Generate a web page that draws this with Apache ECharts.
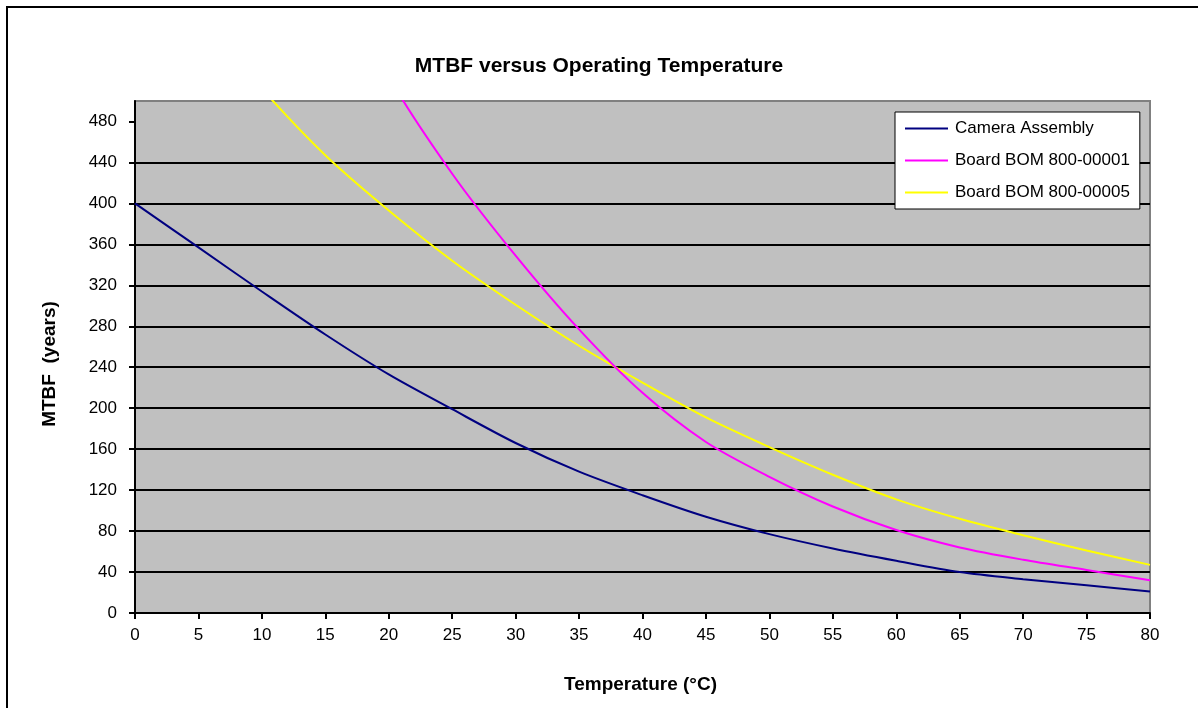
<!DOCTYPE html>
<html>
<head>
<meta charset="utf-8">
<title>MTBF versus Operating Temperature</title>
<script src="https://cdn.jsdelivr.net/npm/echarts@6/dist/echarts.min.js"></script>
<style>
  html, body { margin: 0; padding: 0; background: #fff; }
  #frame {
    position: absolute; left: 6px; top: 6px;
    width: 1300px; height: 800px;
    border: 2px solid #000; box-sizing: border-box;
  }
  #chart { position: absolute; left: 0; top: 0; width: 1198px; height: 708px; }
</style>
</head>
<body>
<div id="frame"></div>
<div id="chart"></div>
<script>
// temperature (°C)
const temps = [0, 5, 10, 15, 20, 25, 30, 35, 40, 45, 50, 55, 60, 65, 70, 75, 80]
// MTBF in years (null = off the chart)
const cameraAssembly = [400, 357, 314, 272, 233, 199, 166, 138, 115, 94, 77, 63, 51, 40, 33, 27, 21]
const board00001 = [null, null, null, 650, 524, 429, 349, 277, 215, 167, 133, 104, 81, 64, 52, 42, 32]
const board00005 = [null, 585, 512, 447, 393, 344, 301, 261, 225, 191, 162, 135, 111, 92, 76, 61, 47]

const xTicks = [0, 5, 10, 15, 20, 25, 30, 35, 40, 45, 50, 55, 60, 65, 70, 75, 80]
const yTicks = [0, 40, 80, 120, 160, 200, 240, 280, 320, 360, 400, 440, 480]

const seriesNames = ['Camera Assembly', 'Board BOM 800-00001', 'Board BOM 800-00005']
const seriesColors = ['#000080', '#ff00ff', '#ffff00']

const toPairs = vals => temps.map((t, i) => [t, vals[i]])

const FONT = '"Liberation Sans", Arial, sans-serif'
// plain line as legend key (the bare moveTo points keep the icon's box)
const LINE_ICON = 'path://M0,0M0,7.5H43V9.5H0ZM43,17'

const chart = echarts.init(document.getElementById('chart'))

const option = {
  animation: false,
  textStyle: { fontFamily: FONT, color: '#000' },
  title: {
    text: 'MTBF versus Operating Temperature',
    left: 'center',
    top: 51,
    textStyle: { fontFamily: FONT, fontSize: 21, fontWeight: 'bold', color: '#000' }
  },
  legend: {
    orient: 'vertical',
    left: 895,
    top: 112,
    padding: [8, 10, 8, 10],
    itemGap: 15,
    itemWidth: 43,
    itemHeight: 17,
    icon: LINE_ICON,
    backgroundColor: '#fff',
    borderColor: '#000',
    borderWidth: 1,
    borderRadius: 0,
    textStyle: { fontFamily: FONT, fontSize: 17, color: '#000', padding: [0, 0, 0, 2] },
    data: seriesNames
  },
  grid: {
    left: 135,
    right: 48,
    top: 101,
    bottom: 95,
    show: true,
    backgroundColor: '#c0c0c0',
    borderColor: '#808080',
    borderWidth: 2,
    containLabel: false
  },
  xAxis: {
    type: 'value',
    min: 0,
    max: 80,
    interval: 5,
    name: 'Temperature (°C)',
    nameLocation: 'middle',
    nameGap: 62,
    nameTextStyle: { fontFamily: FONT, fontSize: 19, fontWeight: 'bold', color: '#000', padding: [0, 4, 0, 0] },
    axisLine: { show: true, lineStyle: { color: '#000', width: 2 } },
    axisTick: { show: true, length: 6, lineStyle: { color: '#000', width: 2 }, customValues: xTicks },
    axisLabel: { margin: 14, fontSize: 17, color: '#000', customValues: xTicks },
    splitLine: { show: false }
  },
  yAxis: {
    type: 'value',
    min: 0,
    max: 500,
    interval: 40,
    name: 'MTBF  (years)',
    nameLocation: 'middle',
    nameGap: 76,
    nameRotate: 90,
    nameTextStyle: { fontFamily: FONT, fontSize: 19, fontWeight: 'bold', color: '#000', padding: [0, 14, 0, 0] },
    axisLine: { show: true, lineStyle: { color: '#000', width: 2 } },
    axisTick: { show: true, length: 6, lineStyle: { color: '#000', width: 2 }, customValues: yTicks },
    axisLabel: { margin: 18, fontSize: 17, color: '#000', customValues: yTicks },
    splitLine: {
      show: true,
      showMinLine: false,
      showMaxLine: false,
      lineStyle: { color: '#000', width: 2 }
    }
  },
  series: [cameraAssembly, board00001, board00005].map((vals, i) => ({
    name: seriesNames[i],
    type: 'line',
    data: toPairs(vals),
    smooth: 0.3,
    symbol: 'none',
    clip: true,
    connectNulls: false,
    itemStyle: { color: seriesColors[i] },
    lineStyle: { color: seriesColors[i], width: 2 },
    z: 3 - i
  }))
}

chart.setOption(option)
</script>
</body>
</html>
